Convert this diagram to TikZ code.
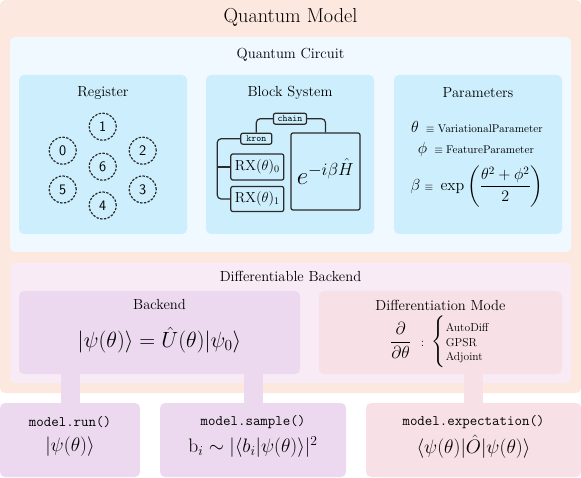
\documentclass[tikz,border=0pt]{standalone}
\usepackage{fix-cm}
\usepackage{amsmath}
\newcommand\fsz[2]{\fontsize{#1}{#2}\selectfont}
\definecolor{salmon}{HTML}{FDE8E0}
\definecolor{cbg}{HTML}{F0F9FF}
\definecolor{qblue}{HTML}{CDEEFC}
\definecolor{dbg}{HTML}{F8EBF5}
\definecolor{lav}{HTML}{ECD9EF}
\definecolor{pinkb}{HTML}{F7E0E6}
\definecolor{ink}{HTML}{2A2A2A}
\begin{document}
\begin{tikzpicture}[x=1pt,y=-1pt,
  panel/.style={rounded corners=5pt, inner sep=0pt, outer sep=0pt, draw=none},
  lbl/.style={inner sep=0pt, anchor=center},
  ttl/.style={lbl, font=\fsz{14.6}{17}},
  qubit/.style={circle, draw=ink, dash pattern=on 2.4pt off 1.4pt, line width=1.2pt, minimum size=27pt, inner sep=0pt, font=\sffamily\fsz{14.5}{16}},
  blk/.style={draw=ink, line width=1.2pt, rounded corners=2pt, fill=qblue, inner sep=0pt},
  wire/.style={draw=ink, line width=1.2pt, rounded corners=4pt},
  stem/.style={line width=19pt},
  code/.style={lbl, font=\ttfamily\fsz{14.5}{16}},
  bigmath/.style={lbl, font=\fsz{19.5}{23}},
]
\useasboundingbox (0,0) rectangle (581,478);

% Quantum Model
\node[panel, fill=salmon, minimum width=581pt, minimum height=393pt] (model) at (290.5,196.5) {};
\node[lbl, font=\fsz{20.2}{24}] (modeltitle) at (290.5,17) {Quantum Model};

% Quantum Circuit
\node[panel, fill=cbg, minimum width=561pt, minimum height=215pt] (circuit) at (290.5,144.5) {};
\node[ttl] (circuittitle) at (290.5,55) {Quantum Circuit};

\node[panel, fill=qblue, minimum width=168pt, minimum height=159pt] (register) at (103,154.5) {};
\node[ttl] (registertitle) at (103,93) {Register};
\node[panel, fill=qblue, minimum width=168pt, minimum height=159pt] (blocksys) at (290,154.5) {};
\node[ttl] (blocktitle) at (290,93) {Block System};
\node[panel, fill=qblue, minimum width=168pt, minimum height=159pt] (params) at (478,154.5) {};
\node[ttl] (paramstitle) at (478,93) {Parameters};

% Register qubits
\node[qubit] (q1) at (102.7,126.7) {1};
\node[qubit] (q0) at (62.7,150.7) {0};
\node[qubit] (q2) at (142.7,150.7) {2};
\node[qubit] (q6) at (102.7,166.7) {6};
\node[qubit] (q5) at (62.7,189.5) {5};
\node[qubit] (q3) at (142.7,189.5) {3};
\node[qubit] (q4) at (102.7,205.5) {4};

% Block system
\node[blk, minimum width=33pt, minimum height=11pt, font=\ttfamily\fsz{9.5}{10}] (chain) at (290,118.7) {chain};
\node[blk, minimum width=31pt, minimum height=11pt, font=\ttfamily\fsz{9.5}{10}] (kron) at (256.3,138.7) {kron};
\node[blk, minimum width=53pt, minimum height=26pt, font=\fsz{14.5}{17}] (rx0) at (257.3,167) {$\mathrm{RX}(\theta)_0$};
\node[blk, minimum width=53pt, minimum height=25pt, font=\fsz{14.5}{17}] (rx1) at (257.3,199) {$\mathrm{RX}(\theta)_1$};
\node[blk, minimum width=69pt, minimum height=77pt, font=\fsz{25}{29}] (ham) at (325.5,171.5) {$e^{-i\beta\hat{H}}$};
\draw[wire] (chain.west) -| (kron.north);
\draw[wire] (chain.east) -| (ham.north);
\draw[wire] (kron.west) -- ++(-23,0) |- (rx1.west);
\coordinate (rxbranch) at ([xshift=-13pt]rx0.west);
\draw[wire] (rx0.west) -- (rxbranch);

% Parameters
\node[lbl, font=\fsz{16}{19}] (ptheta) at (477,126.7) {$\theta\;\,{\scriptstyle\equiv\;\mathrm{VariationalParameter}}$};
\node[lbl, font=\fsz{16}{19}] (pphi) at (476,150) {$\phi\;\,{\scriptstyle\equiv\;\mathrm{FeatureParameter}}$};
\node[lbl, font=\fsz{16}{19}] (pbeta) at (477,186.7) {$\displaystyle\beta\;{\scriptstyle\equiv}\;\exp\left(\frac{\theta^2+\phi^2}{2}\right)$};

% Differentiable Backend
\node[panel, fill=dbg, minimum width=561pt, minimum height=120pt] (diffbackend) at (290.5,323) {};
\node[ttl] (dbtitle) at (290.5,276) {Differentiable Backend};

\node[panel, fill=lav, minimum width=281pt, minimum height=83pt] (backend) at (159.5,332.5) {};
\node[ttl] (backendtitle) at (159.5,305) {Backend};
\node[lbl, font=\fsz{22}{26}] (backendmath) at (159.5,340) {$|\psi(\theta)\rangle = \hat{U}(\theta)|\psi_0\rangle$};

\node[panel, fill=pinkb, minimum width=243pt, minimum height=83pt] (diffmode) at (440.5,332.5) {};
\node[ttl] (diffmodetitle) at (440.5,305) {Differentiation Mode};
\node[lbl, font=\fsz{17.5}{20}] (diffmath) at (440,342) {$\displaystyle\frac{\partial}{\partial\theta}\;\;{\scriptstyle:}\;\left\{\mbox{\fsz{11.5}{14.5}\begin{tabular}{@{}l@{}}AutoDiff\\GPSR\\Adjoint\end{tabular}}\right.$};

% Outputs
\node[panel, fill=lav, minimum width=140pt, minimum height=74pt] (run) at (70,440) {};
\node[code] (runcode) at (70,421.7) {model.run()};
\node[bigmath] (runmath) at (70,446.7) {$|\psi(\theta)\rangle$};

\node[panel, fill=lav, minimum width=186pt, minimum height=74pt] (sample) at (253,440) {};
\node[code] (samplecode) at (253,421.7) {model.sample()};
\node[bigmath] (samplemath) at (253,446.7) {$\mathrm{b}_i \sim |\langle b_i|\psi(\theta)\rangle|^2$};

\node[panel, fill=pinkb, minimum width=215pt, minimum height=74pt] (expect) at (473.5,440) {};
\node[code] (expectcode) at (473.5,421.7) {model.expectation()};
\node[bigmath] (expectmath) at (473.5,446.7) {$\langle\psi(\theta)|\hat{O}|\psi(\theta)\rangle$};

% Stems
\draw[stem, lav] (run.north) -- (run.north |- backend.south);
\draw[stem, lav] (sample.north) -- (sample.north |- backend.south);
\draw[stem, pinkb] (expect.north) -- (expect.north |- diffmode.south);
\end{tikzpicture}
\end{document}
